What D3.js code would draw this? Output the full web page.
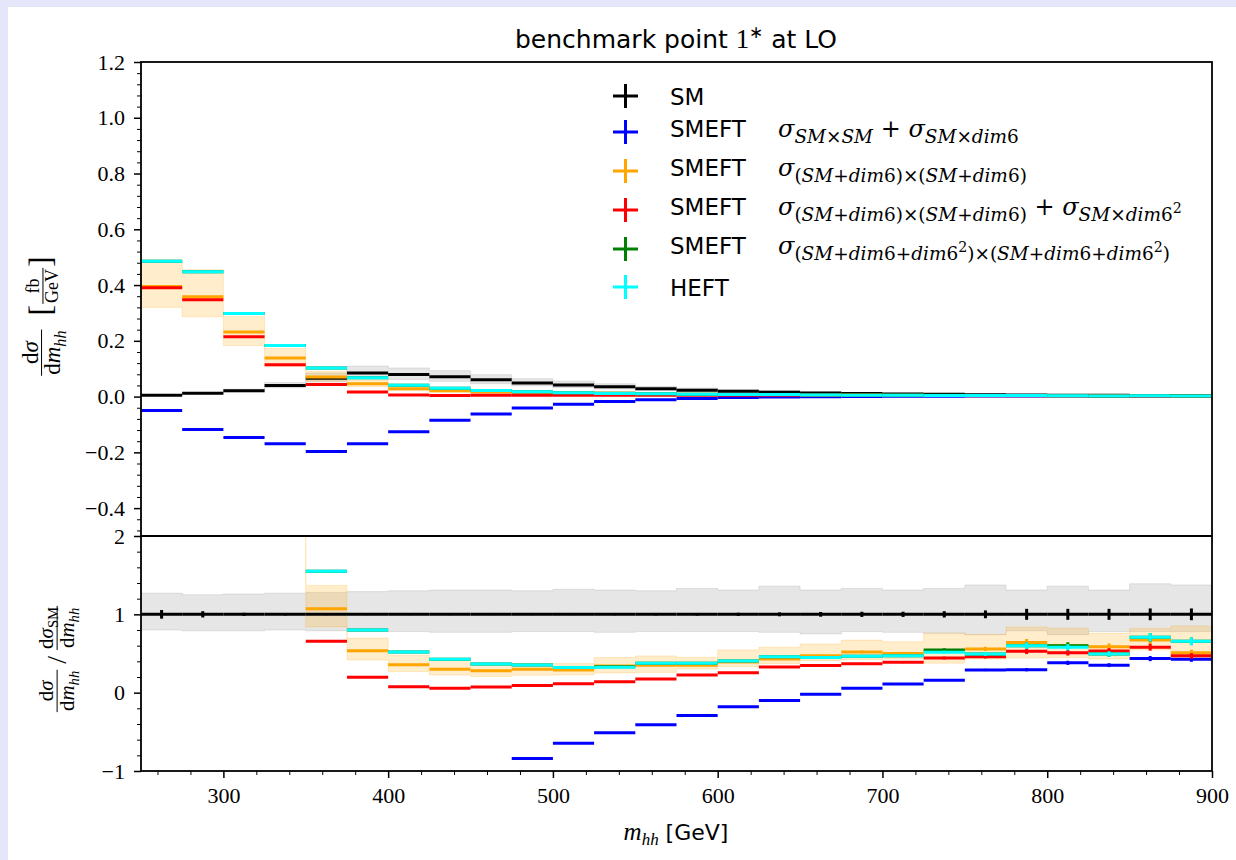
<!DOCTYPE html>
<html>
<head>
<meta charset="utf-8">
<script src="https://cdn.jsdelivr.net/npm/d3@7"></script>
<style>
  body { margin: 0; background: #e6e6fa; }
  svg { display: block; }
  .tick text { font-family: 'Liberation Serif', serif; font-size: 22px; fill: #000; }
  text { white-space: pre; }
</style>
</head>
<body>
<svg id="chart" width="1236" height="860"></svg>
<script>
// bin edges in GeV (25 GeV bins)
var edges = d3.range(250, 901, 25);

// differential cross sections dsigma/dm_hh [fb/GeV], one value per bin
var sm     = [0.0050, 0.0120, 0.0210, 0.0400, 0.0660, 0.0850, 0.0790, 0.0710, 0.0600, 0.0490, 0.0420, 0.0350, 0.0280,
              0.0230, 0.0190, 0.0160, 0.0130, 0.0110, 0.0095, 0.0080, 0.0070, 0.0060, 0.0052, 0.0045, 0.0040, 0.0035];
var smeftLin = [-0.050, -0.118, -0.147, -0.169, -0.197, -0.169, -0.126, -0.085, -0.062, -0.0412, -0.0271, -0.0179, -0.0115,
              -0.0067, -0.0034, -0.0016, -0.00026, 0.00062, 0.00105, 0.00126, 0.00203, 0.00176, 0.00198, 0.00158, 0.00174, 0.00149];
var smeftSq  = [0.395, 0.358, 0.232, 0.138, 0.0706, 0.0456, 0.0282, 0.0213, 0.0168, 0.0147, 0.01218, 0.0119, 0.0098,
              0.00805, 0.00741, 0.00688, 0.00611, 0.00572, 0.00475, 0.00424, 0.003906, 0.00384, 0.00312, 0.002642, 0.002688, 0.001785];
var smeftSqD8 = [0.390, 0.347, 0.215, 0.114, 0.0433, 0.01675, 0.00608, 0.00398, 0.00438, 0.00441, 0.00483, 0.0049, 0.0049,
              0.0052, 0.00485, 0.00525, 0.00449, 0.00407, 0.0037, 0.00354, 0.00322, 0.00318, 0.00265, 0.00239, 0.00232, 0.001645];
var smeftFull = [0.485, 0.448, 0.298, 0.183, 0.1023, 0.068, 0.0411, 0.0302, 0.0220, 0.01735, 0.01344, 0.01155, 0.0105,
              0.008625, 0.007695, 0.00736, 0.00585, 0.005115, 0.004465, 0.00436, 0.003458, 0.0036, 0.00312, 0.002223, 0.002828, 0.002296];
var heft   = [0.485, 0.448, 0.298, 0.183, 0.1023, 0.068, 0.0411, 0.0302, 0.0220, 0.01735, 0.01344, 0.01134, 0.0105,
              0.008625, 0.007695, 0.00736, 0.00585, 0.005115, 0.004465, 0.00412, 0.003458, 0.0036, 0.003016, 0.002223, 0.002828, 0.002296];

// statistical error per bin, relative
var relErr = [0.055, 0.04, 0.02, 0.015, 0.01, 0.01, 0.01, 0.01, 0.01, 0.01, 0.01, 0.012, 0.014,
              0.016, 0.02, 0.025, 0.03, 0.033, 0.033, 0.04, 0.05, 0.07, 0.07, 0.07, 0.075, 0.075];

// scale variation bands, relative to the central value
var smBandLo = [0.80, 0.79, 0.79, 0.80, 0.79, 0.78, 0.78, 0.77, 0.77, 0.78, 0.78, 0.77, 0.78,
                0.78, 0.78, 0.77, 0.75, 0.78, 0.77, 0.76, 0.74, 0.79, 0.74, 0.78, 0.78, 0.78];
var smBandHi = [1.27, 1.25, 1.26, 1.27, 1.28, 1.29, 1.30, 1.31, 1.31, 1.30, 1.32, 1.31, 1.30,
                1.33, 1.31, 1.36, 1.31, 1.33, 1.31, 1.33, 1.375, 1.31, 1.36, 1.31, 1.39, 1.375];
var sqBandLo = [0.81, 0.80, 0.79, 0.79, 0.785, 0.78, 0.76, 0.75, 0.74, 0.74, 0.78, 0.74, 0.74,
                0.86, 0.85, 0.86, 0.87, 0.81, 0.86, 0.71, 0.77, 0.69, 0.75, 0.73, 0.81, 0.82];
var sqBandHi = [1.24, 1.27, 1.24, 1.25, 1.28, 1.30, 1.34, 1.40, 1.25, 1.25, 1.28, 1.32, 1.34,
                1.29, 1.40, 1.35, 1.32, 1.29, 1.30, 1.43, 1.33, 1.31, 1.37, 1.29, 1.22, 1.67];

var seriesList = [
  { vals: sm,        color: "black",   label: "SM",    tex: "" },
  { vals: smeftLin,  color: "#0000ff", label: "SMEFT", tex: "σ_{SM×SM} + σ_{SM×dim6}" },
  { vals: smeftSq,   color: "#ffa500", label: "SMEFT", tex: "σ_{(SM+dim6)×(SM+dim6)}" },
  { vals: smeftSqD8, color: "#ff0000", label: "SMEFT", tex: "σ_{(SM+dim6)×(SM+dim6)} + σ_{SM×dim6^{2}}" },
  { vals: smeftFull, color: "#008000", label: "SMEFT", tex: "σ_{(SM+dim6+dim6^{2})×(SM+dim6+dim6^{2})}" },
  { vals: heft,      color: "#00ffff", label: "HEFT",  tex: "" }
];

var svg = d3.select("#chart");
svg.append("rect").attr("x", 8).attr("y", 7).attr("width", 1228).attr("height", 853).attr("fill", "white");

var x = d3.scaleLinear().domain([250, 900]).range([141, 1212]);
var yTop = d3.scaleLinear().domain([-0.5, 1.2]).range([536, 62]);
var yRat = d3.scaleLinear().domain([-1, 2]).range([771, 536]);

var defs = svg.append("defs");
defs.append("clipPath").attr("id", "clipTop").append("rect")
  .attr("x", 141).attr("y", 62).attr("width", 1071).attr("height", 474);
defs.append("clipPath").attr("id", "clipRat").append("rect")
  .attr("x", 141).attr("y", 536).attr("width", 1071).attr("height", 235);

var bins = d3.range(sm.length);

function drawBand(g, y, lo, hi, color) {
  var pts = bins.map(function(i) { return { x: edges[i], lo: lo[i], hi: hi[i] }; });
  pts.push({ x: edges[edges.length - 1], lo: lo[lo.length - 1], hi: hi[hi.length - 1] });
  var area = d3.area().curve(d3.curveStepAfter)
    .x(function(d) { return x(d.x); })
    .y0(function(d) { return y(d.lo); })
    .y1(function(d) { return y(d.hi); });
  g.append("path").attr("d", area(pts))
    .attr("fill", color).attr("fill-opacity", 0.2)
    .attr("stroke", color).attr("stroke-opacity", 0.2).attr("stroke-width", 1);
}

function drawSeries(g, y, vals, errs, color) {
  var s = g.append("g").attr("stroke", color).attr("stroke-width", 3).attr("fill", "none");
  s.selectAll("line.h").data(bins).enter().append("line").attr("class", "h")
    .attr("x1", function(i) { return x(edges[i]); })
    .attr("x2", function(i) { return x(edges[i + 1]); })
    .attr("y1", function(i) { return y(vals[i]); })
    .attr("y2", function(i) { return y(vals[i]); });
  s.selectAll("line.v").data(bins).enter().append("line").attr("class", "v")
    .attr("x1", function(i) { return x((edges[i] + edges[i + 1]) / 2); })
    .attr("x2", function(i) { return x((edges[i] + edges[i + 1]) / 2); })
    .attr("y1", function(i) { return y(vals[i] - errs[i]); })
    .attr("y2", function(i) { return y(vals[i] + errs[i]); });
}

// ---- upper panel
var absErr = bins.map(function(i) { return sm[i] * relErr[i]; });
var gTop = svg.append("g").attr("clip-path", "url(#clipTop)");
drawBand(gTop, yTop, bins.map(function(i) { return sm[i] * smBandLo[i]; }), bins.map(function(i) { return sm[i] * smBandHi[i]; }), "gray");
drawBand(gTop, yTop, bins.map(function(i) { return smeftSq[i] * sqBandLo[i]; }), bins.map(function(i) { return smeftSq[i] * sqBandHi[i]; }), "#ffa500");
seriesList.forEach(function(s) {
  drawSeries(gTop, yTop, s.vals, absErr, s.color);
});

// ---- ratio panel
var gRat = svg.append("g").attr("clip-path", "url(#clipRat)");
drawBand(gRat, yRat, smBandLo, smBandHi, "gray");
drawBand(gRat, yRat, bins.map(function(i) { return smeftSq[i] * sqBandLo[i] / sm[i]; }), bins.map(function(i) { return smeftSq[i] * sqBandHi[i] / sm[i]; }), "#ffa500");
seriesList.forEach(function(s) {
  var r = bins.map(function(i) { return s.vals[i] / sm[i]; });
  drawSeries(gRat, yRat, r, bins.map(function(i) { return Math.abs(r[i]) * relErr[i]; }), s.color);
});

// ---- axes
var fmtMinus = function(f) { return function(d) { return f(d).replace("-", "\u2212"); }; };
var yTopMajor = d3.range(-2, 7).map(function(k) { return k * 0.2; });
var yTopMinor = d3.range(-12, 31).filter(function(k) { return k % 5 !== 0; }).map(function(k) { return k * 0.04; });
var yRatMajor = [-1, 0, 1, 2];
var yRatMinor = d3.range(-5, 11).filter(function(k) { return k % 5 !== 0; }).map(function(k) { return k * 0.2; });
var xMajor = d3.range(300, 901, 100);
var xMinor = d3.range(260, 900, 20).filter(function(v) { return v % 100 !== 0; });

function styleAxis(g, w) {
  g.select(".domain").remove();
  g.selectAll(".tick line").attr("stroke", "black").attr("stroke-width", w);
}

var ax;
ax = svg.append("g").attr("transform", "translate(141,0)")
  .call(d3.axisLeft(yTop).tickValues(yTopMajor).tickSize(7).tickPadding(9).tickFormat(fmtMinus(d3.format(".1f"))));
styleAxis(ax, 1.5);
ax = svg.append("g").attr("transform", "translate(141,0)")
  .call(d3.axisLeft(yTop).tickValues(yTopMinor).tickSize(4).tickFormat(""));
styleAxis(ax, 1);
ax = svg.append("g").attr("transform", "translate(141,0)")
  .call(d3.axisLeft(yRat).tickValues(yRatMajor).tickSize(7).tickPadding(9).tickFormat(fmtMinus(d3.format("d"))));
styleAxis(ax, 1.5);
ax = svg.append("g").attr("transform", "translate(141,0)")
  .call(d3.axisLeft(yRat).tickValues(yRatMinor).tickSize(4).tickFormat(""));
styleAxis(ax, 1);
ax = svg.append("g").attr("transform", "translate(0,771)")
  .call(d3.axisBottom(x).tickValues(xMajor).tickSize(7).tickPadding(6).tickFormat(d3.format("d")));
styleAxis(ax, 1.5);
ax.selectAll(".tick text").attr("dy", "0.85em");
ax = svg.append("g").attr("transform", "translate(0,771)")
  .call(d3.axisBottom(x).tickValues(xMinor).tickSize(4).tickFormat(""));
styleAxis(ax, 1);

// spines
svg.append("rect").attr("x", 141).attr("y", 62).attr("width", 1071).attr("height", 474)
  .attr("fill", "none").attr("stroke", "black").attr("stroke-width", 1.8);
svg.append("rect").attr("x", 141).attr("y", 536).attr("width", 1071).attr("height", 235)
  .attr("fill", "none").attr("stroke", "black").attr("stroke-width", 1.8);

// ---- tiny TeX-ish text: letters italic, `...` roman, _{} sub, ^{} sup
function tex(textSel, s, size, subScale) {
  subScale = subScale || 0.7;
  var stack = [{ sh: 0, sc: 1 }], roman = false, cur = 0, buf = "", bufStyle = null;
  function flush() {
    if (!buf) return;
    textSel.append("tspan").attr("dy", bufStyle.sh - cur)
      .attr("font-size", size * bufStyle.sc)
      .attr("font-style", bufStyle.it ? "italic" : "normal").text(buf);
    cur = bufStyle.sh; buf = "";
  }
  for (var i = 0; i < s.length; i++) {
    var c = s[i], t = stack[stack.length - 1];
    if (c === "`") { roman = !roman; continue; }
    if ((c === "_" || c === "^") && s[i + 1] === "{") {
      stack.push(c === "_" ? { sh: t.sh + 0.24 * size * t.sc, sc: t.sc * subScale } : { sh: t.sh - 0.4 * size * t.sc, sc: t.sc * subScale });
      i++; continue;
    }
    if (c === "}") { stack.pop(); continue; }
    var st = { sh: t.sh, sc: t.sc, it: !roman && /[A-Za-zσ]/.test(c) };
    if (bufStyle && (bufStyle.sh !== st.sh || bufStyle.sc !== st.sc || bufStyle.it !== st.it)) flush();
    bufStyle = st; buf += c;
  }
  flush();
  if (cur !== 0) textSel.append("tspan").attr("dy", -cur).text("");
  return textSel;
}

function fraction(g, x0, num, den, size) {
  var tn = tex(g.append("text").attr("font-family", "Liberation Serif").attr("y", -0.28 * size - 4), num, size);
  var td = tex(g.append("text").attr("font-family", "Liberation Serif").attr("y", -0.28 * size + size * 0.72 + 2), den, size);
  var wn = tn.node().getComputedTextLength(), wd = td.node().getComputedTextLength();
  var w = Math.max(wn, wd) + 2;
  tn.attr("x", x0 + (w - wn) / 2);
  td.attr("x", x0 + (w - wd) / 2);
  g.append("line").attr("x1", x0).attr("x2", x0 + w).attr("y1", -0.28 * size).attr("y2", -0.28 * size)
    .attr("stroke", "black").attr("stroke-width", 1);
  return w;
}

// y label upper panel
var gl = svg.append("g");
var px = 0;
px += fraction(gl, px, "`d`σ", "`d`m_{hh}", 23);
px += 14;
var br = gl.append("text").attr("font-family", "Liberation Serif").attr("font-size", 32).attr("x", px).attr("y", 3).text("[");
px += br.node().getComputedTextLength() + 1;
px += fraction(gl, px, "`fb`", "`GeV`", 18);
br = gl.append("text").attr("font-family", "Liberation Serif").attr("font-size", 32).attr("x", px + 1).attr("y", 3).text("]");
px += br.node().getComputedTextLength() + 1;
gl.attr("transform", "translate(48," + (316 + px / 2) + ") rotate(-90)");

// y label ratio panel
var gr = svg.append("g");
px = 0;
px += fraction(gr, px, "`d`σ", "`d`m_{hh}", 21);
px += 6;
var sl = gr.append("text").attr("font-family", "Liberation Serif").attr("font-size", 28).attr("x", px).attr("y", 3).text("/");
px += sl.node().getComputedTextLength() + 6;
px += fraction(gr, px, "`d`σ_{`SM`}", "`d`m_{hh}", 21);
gr.attr("transform", "translate(63," + (659 + px / 2) + ") rotate(-90)");

// title
var title = svg.append("text").attr("x", 676).attr("y", 48).attr("text-anchor", "middle")
  .attr("font-family", "DejaVu Sans").attr("font-size", 25);
title.append("tspan").text("benchmark point ");
title.append("tspan").attr("font-family", "Liberation Serif").attr("font-size", 27).text("1");
title.append("tspan").attr("font-family", "Liberation Serif").attr("font-size", 17).attr("dy", -10).text("∗");
title.append("tspan").attr("dy", 10).text(" at LO");

// x label
var xl = svg.append("text").attr("x", 676).attr("y", 840).attr("text-anchor", "middle").attr("font-size", 22);
var xm = xl.append("tspan").attr("font-family", "Liberation Serif").attr("font-style", "italic");
xm.append("tspan").attr("font-size", 25).text("m");
xm.append("tspan").attr("font-size", 17).attr("dy", 5).text("hh");
xl.append("tspan").attr("dy", -5).attr("font-family", "DejaVu Sans").text(" [GeV]");

// legend
var legY = [96, 132, 171, 210, 249, 287];
var leg = svg.append("g");
seriesList.forEach(function(s, k) {
  var cy = legY[k];
  leg.append("line").attr("x1", 613).attr("x2", 638).attr("y1", cy).attr("y2", cy).attr("stroke", s.color).attr("stroke-width", 3);
  leg.append("line").attr("x1", 625.5).attr("x2", 625.5).attr("y1", cy - 12).attr("y2", cy + 12).attr("stroke", s.color).attr("stroke-width", 3);
  var base = s.tex ? cy + 5 : cy + 9;
  leg.append("text").attr("x", 670).attr("y", base).attr("font-family", "DejaVu Sans").attr("font-size", 23).text(s.label);
  if (s.tex) {
    tex(leg.append("text").attr("x", 778).attr("y", base).attr("font-family", "DejaVu Serif"), s.tex, 24, 0.77);
  }
});
</script>
</body>
</html>
